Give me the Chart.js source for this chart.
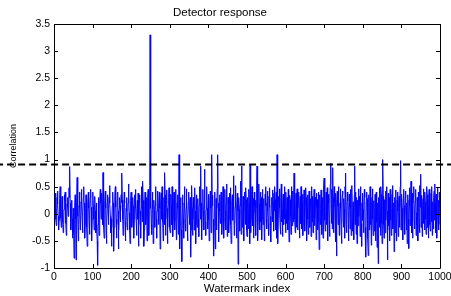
<!DOCTYPE html>
<html>
<head>
<meta charset="utf-8">
<script src="https://cdn.jsdelivr.net/npm/chart.js@4.4.1/dist/chart.umd.min.js"></script>
<style>
    html, body { margin: 0; padding: 0; background: #fff; }
    #wrap { width: 451px; height: 296px; }
</style>
</head>
<body>
<div id="wrap"><canvas id="detector-chart"></canvas></div>
<script>
// detector output for watermark index 1..1000
const correlation = [
    .25, .12, .38, .2, -.1, -.22, .05, .3, .42, .18,
    -.05, -.3, -.12, .15, .28, .5, .22, -.08, -.25, .1,
    .32, .2, -.15, -.35, -.2, .08, .35, .24, .4, .05,
    -.18, -.4, -.1, .18, .3, .12, -.05, .22, .48, .3,
    .87, .2, -.15, -.3, .05, .25, -.1, -.45, -.2, .1,
    -.35, -.82, -.3, .15, .35, -.1, -.85, -.4, .2, .67,
    .3, -.05, -.5, -.2, .15, .4, .1, -.3, -.15, .22,
    .45, .18, -.12, -.35, .05, .3, .5, .2, -.1, -.45,
    -.2, .1, .35, .15, -.25, -.6, -.3, .2, .4, .1,
    -.15, -.38, .05, .3, .45, .12, -.2, -.5, -.1, .25,
    .4, .15, -.1, -.3, .1, .32, .05, -.35, -.15, .2,
    -.3, -.5, -.95, -.2, .3, .1, -.4, -.15, .25, .45,
    .2, -.1, .1, .38, .15, -.2, .76, .3, -.25, -.45,
    -.1, .25, .42, .1, -.3, -.55, -.15, .2, .35, .05,
    -.2, .1, .3, .52, .2, -.05, -.35, -.1, -.6, -.25,
    .15, .4, .2, -.3, -.69, -.25, .1, .35, .5, .12,
    -.1, -.45, -.2, .25, .4, .05, -.65, -.3, .1, .3,
    .15, -.15, .05, .35, .2, .75, .25, -.1, -.4, -.2,
    .12, .4, .2, -.15, -.5, -.25, .1, .3, .05, -.3,
    -.15, .2, .55, .3, .02, -.3, -.55, -.2, .25, .4,
    .1, -.25, -.05, .3, .15, -.2, -.45, -.1, .35, .2,
    .45, .1, -.15, -.4, .05, .25, -.1, .38, -.6, -.2,
    .2, .35, .05, -.25, -.45, .1, .5, .2, -.15, .6,
    .25, -.1, -.6, -.3, .15, .4, .2, -.2, -.05, .3,
    -.5, -.15, .3, .45, .1, -.4, .2, .52, 3.3, .1,
    .3, -.2, -.38, .1, .4, .2, -.55, -.2, .25, .05,
    -.25, .15, .5, .25, -.1, -.45, .05, .3, .42, .1,
    -.2, .15, .4, .1, -.65, -.3, .2, .38, -.1, .5,
    .25, -.15, -.5, -.1, .3, -.2, .76, .35, -.4, -.1,
    .2, .44, .1, -.55, -.25, .15, .3, .48, .1, -.25,
    -.35, .05, .36, .15, -.2, .5, .2, -.42, -.1, .3,
    .4, .1, -.3, -.1, .25, .45, -.48, -.15, .2, .35,
    .1, -.38, .05, 1.09, .2, -.65, -.2, .3, .1, -.3,
    -.88, -.25, .35, .15, -.1, -.45, .2, .5, .1, -.2,
    -.32, .1, .46, .2, -.15, -.5, -.1, .22, .4, .05,
    -.2, .15, .3, -.8, -.3, .2, .52, .1, -.4, -.1,
    .3, .1, -.3, .2, .48, .05, -.55, -.2, .35, .15,
    -.25, .05, .28, -.1, -.42, .15, .38, .5, -.1, .88,
    .2, -.2, -.48, .1, .32, .45, .05, -.3, .1, .82,
    .15, -.15, -.4, .08, .3, .5, .1, -.28, -.1, .36,
    .05, -.5, -.2, .25, .42, .1, -.35, .2, 1.09, .15,
    .34, -.1, -.45, -.78, -.2, .3, .4, -.65, -.1, .28,
    -.3, .1, .46, 1.09, .2, -.2, -.52, .1, .35, .05,
    -.18, .2, .4, .1, -.38, -.15, .25, .5, .15, -.45,
    -.1, .28, .45, .05, -.3, .18, .55, .2, -.42, -.15,
    .3, .06, -.35, -.1, .38, .14, .48, -.2, -.55, .04,
    .22, .35, -.12, .2, .7, .1, -.4, -.22, .12, .52,
    .3, -.1, -.45, .15, .38, .05, -.93, -.3, .3, .08,
    -.32, .15, .44, .6, -.38, .88, .2, -.25, .05, .32,
    -.05, -.5, .18, .4, .12, -.2, .48, .26, -.3, -.42,
    .05, .3, .1, -.28, .45, .22, -.55, .9, .15, -.35,
    -.1, .36, .5, .12, -.22, .28, -.45, .02, .4, .15,
    -.18, .25, -.4, .1, .46, .88, .2, -.5, -.12, .32,
    .55, .18, -.3, .05, .4, -.15, .3, -.48, -.1, .45,
    .12, -.2, .28, .08, -.5, -.35, .36, .15, .5, -.1,
    -.28, .2, .42, .06, -.18, -.4, .32, .12, .48, -.25,
    -.05, -.52, .16, .3, .1, -.15, .44, .22, -.32, .38,
    .05, .5, .26, -.3, -.12, .4, -.45, 1.09, .15, -.55,
    -.08, .32, .2, .46, .1, -.25, -.38, .3, .55, -.15,
    .08, -.42, .18, .36, -.2, .28, -.1, .5, .12, -.35,
    .4, .06, -.18, .3, .22, -.3, .45, -.12, -.52, .15,
    .34, .25, -.05, -.38, .1, .5, -.22, .2, .42, -.15,
    .28, .75, .16, -.1, -.35, .05, .38, -.25, .12, .46,
    -.3, .1, .22, .4, -.08, -.45, .15, .32, -.18, .5,
    .06, -.28, .2, .36, -.4, -.12, .26, .44, .02, -.32,
    .18, .48, .3, -.2, -.5, .12, .35, -.1, -.38, .22,
    .42, .04, -.25, .15, .28, -.42, .1, .5, -.15, .32,
    -.35, .06, .2, .45, -.22, -.08, .3, .16, -.48, .38,
    .12, .26, -.3, -.15, .4, .08, -.66, .22, .35, -.2,
    .1, .44, .18, -.38, -.05, .3, -.45, .2, .52, .66,
    .28, -.12, -.32, .06, .4, -.2, .15, .48, -.5, .25,
    .36, .2, -.1, -.42, .3, .55, .93, .1, -.18, .45,
    -.28, .85, .3, -.35, .12, .5, .22, -.15, -.52, .38,
    .05, -.78, .26, .42, .14, -.2, .5, .3, -.4, -.08,
    .2, .46, .1, -.3, -.55, .18, .35, .42, -.12, -.25,
    .28, .08, -.45, .5, .75, .3, -.2, -.35, .15, .4,
    .24, -.1, -.5, .06, .36, .12, -.28, .45, .3, -.4,
    .18, .52, -.15, -.32, .22, .05, -.48, .35, .88, -.2,
    .4, .12, -.38, .3, -.55, .1, .25, -.22, .46, -.05,
    .32, .15, -.42, .5, .28, -.18, -.6, .2, .38, -.12,
    .08, -.35, .16, .45, .3, -.25, -.5, -.8, .22, .4,
    .28, -.15, -.45, -.77, .1, .35, -.3, .12, .5, -.2,
    .42, -.58, .18, .3, .46, -.1, -.4, .05, .24, -.32,
    .12, .36, -.5, .28, .4, -.15, -.62, .2, .1, -.92,
    .3, .06, -.25, .48, .22, -.4, .5, .35, -.18, -.55,
    .15, 1.0, .32, -.2, -.45, .1, .26, -.35, .42, -.12,
    .2, .5, .05, -.85, -.3, .38, -.22, .3, .16, -.5,
    .45, .24, -.12, -.4, .1, .36, .52, -.28, -.15, .2,
    -.7, .08, .3, -.35, .14, .44, -.5, -.1, .25, .4,
    .05, -.42, .18, .32, -.25, .12, .5, .98, -.3, .22,
    .36, .1, -.15, -.48, .28, .45, .15, -.2, -.38, .3,
    .42, .06, -.3, .2, -.55, .12, .35, -.1, -.64, .25,
    .48, .15, -.22, .3, .6, .08, -.35, .38, -.45, .2,
    .32, .5, -.12, -.28, .1, .24, .45, -.4, .02, -.2,
    .3, .18, -.5, .4, .26, -.15, -.35, .52, .12, .73,
    -.25, .06, .34, -.42, .15, .28, -.18, .46, .2, -.3,
    .4, .22, -.1, -.38, .08, .5, .35, -.25, .14, -.45,
    .28, .45, .1, -.2, -.32, .18, .38, -.15, .5, -.4,
    .22, .06, -.28, .3, .42, -.12, .55, .2, -.35, .36,
    -.18, -.45, .3, .48, -.1, .25, -.3, .12, .4, -.2
];
const threshold = 0.91;
const thresholdSpan = [-150, 1150];
const xTicks = [0, 100, 200, 300, 400, 500, 600, 700, 800, 900, 1000];
const yTicks = [-1, -0.5, 0, 0.5, 1, 1.5, 2, 2.5, 3, 3.5];

const FONT = '"Liberation Sans", Arial, Helvetica, sans-serif';

// MATLAB style box with inward tick marks on all four sides
const matlabBox = {
    id: 'matlabBox',
    afterDatasetsDraw(chart) {
        const { ctx, chartArea: a, scales: { x, y } } = chart;
        const len = 4;
        ctx.save();
        ctx.strokeStyle = '#000';
        ctx.lineWidth = 1;
        ctx.beginPath();
        ctx.rect(a.left + 0.5, a.top + 0.5, a.right - a.left, a.bottom - a.top);
        x.ticks.forEach(t => {
            const px = Math.round(x.getPixelForValue(t.value)) + 0.5;
            ctx.moveTo(px, a.bottom);
            ctx.lineTo(px, a.bottom - len);
            ctx.moveTo(px, a.top);
            ctx.lineTo(px, a.top + len);
        });
        y.ticks.forEach(t => {
            const py = Math.round(y.getPixelForValue(t.value)) + 0.5;
            ctx.moveTo(a.left, py);
            ctx.lineTo(a.left + len, py);
            ctx.moveTo(a.right, py);
            ctx.lineTo(a.right - len, py);
        });
        ctx.stroke();
        ctx.restore();
    }
};

function renderDetectorChart() {
    const ctx = document.getElementById('detector-chart');

    new Chart(ctx, {
        type: 'line',
        data: {
            datasets: [{
                data: thresholdSpan.map(v => ({ x: v, y: threshold })),
                borderColor: '#000',
                borderWidth: 2,
                borderDash: [7, 4],
                pointRadius: 0,
                clip: false,
                order: 0
            }, {
                data: correlation.map((v, i) => ({ x: i + 1, y: v })),
                borderColor: '#0000ff',
                borderWidth: 1,
                pointRadius: 0,
                tension: 0,
                order: 1
            }]
        },
        options: {
            responsive: true,
            maintainAspectRatio: false,
            animation: false,
            events: [],
            layout: {
                padding: { left: 0, right: 11, top: 0, bottom: 0 }
            },
            plugins: {
                legend: { display: false },
                tooltip: { enabled: false },
                title: {
                    display: true,
                    text: 'Detector response',
                    color: '#000',
                    font: { family: FONT, size: 11.5, weight: 'normal' },
                    padding: { top: 6, bottom: 4.2 }
                }
            },
            scales: {
                x: {
                    type: 'linear',
                    min: 0,
                    max: 1000,
                    grid: { display: false, drawTicks: false },
                    border: { display: false },
                    afterBuildTicks: s => { s.ticks = xTicks.map(v => ({ value: v })); },
                    afterFit: s => {
                        s.height = 28;
                        s.paddingLeft = 0;
                        s.paddingRight = 0;
                    },
                    ticks: {
                        autoSkip: false,
                        maxRotation: 0,
                        padding: 3,
                        color: '#000',
                        font: { family: FONT, size: 10.5 },
                        callback: v => String(v)
                    },
                    title: {
                        display: true,
                        text: 'Watermark index',
                        color: '#000',
                        font: { family: FONT, size: 11.5 },
                        padding: { top: 0, bottom: 0 }
                    }
                },
                y: {
                    min: -1,
                    max: 3.5,
                    grid: { display: false, drawTicks: false },
                    border: { display: false },
                    afterBuildTicks: s => { s.ticks = yTicks.map(v => ({ value: v })); },
                    afterFit: s => {
                        s.width = 54;
                        s.paddingTop = 0;
                        s.paddingBottom = 0;
                    },
                    ticks: {
                        autoSkip: false,
                        padding: 4,
                        color: '#000',
                        font: { family: FONT, size: 10.5 },
                        callback: v => String(v)
                    },
                    title: {
                        display: true,
                        text: 'Correlation',
                        color: '#000',
                        font: { family: FONT, size: 9 },
                        padding: { top: 8.5, bottom: 0 }
                    }
                }
            }
        },
        plugins: [matlabBox]
    });
}

renderDetectorChart();
</script>
</body>
</html>
